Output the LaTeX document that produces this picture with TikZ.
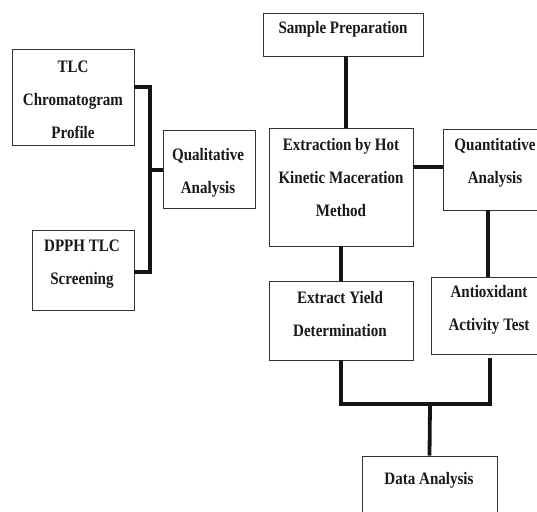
\documentclass[tikz,border=0pt]{standalone}
\usepackage{fontspec}
\setmainfont{Liberation Serif}[FakeStretch=0.86]
\begin{document}
\begin{tikzpicture}[x=1pt,y=-1pt,
  box/.style={draw=black!80, line width=0.9pt, inner sep=0pt, fill=white},
  lbl/.style={font=\fontsize{17.5}{33}\selectfont\bfseries, align=center, text=black!90, inner sep=0pt},
  conn/.style={line width=3.8pt, draw=black!92}]
\useasboundingbox (0,0) rectangle (537,511);
\coordinate (bt) at (150,87);
\coordinate (bb) at (150,272);
\coordinate (bm) at (150,170);
\coordinate (c1) at (346,0);
\coordinate (c2) at (0,167);
\coordinate (c3) at (488,0);
\coordinate (c4) at (490,0);
\coordinate (j) at (430,404);
% boxes
\node[box, minimum width=122pt, minimum height=96pt] (tlc) at (73,97) {};
\node[box, minimum width=102pt, minimum height=80pt] (dpph) at (83,270) {};
\node[box, minimum width=92pt, minimum height=78pt] (qual) at (209,169) {};
\node[box, minimum width=160pt, minimum height=43pt] (samp) at (343,34.5) {};
\node[box, minimum width=144pt, minimum height=118pt] (ext) at (341,187) {};
\node[box, minimum width=95pt, minimum height=81pt] (quant) at (490.5,169.5) {};
\node[box, minimum width=144pt, minimum height=79pt] (yield) at (341,320.5) {};
\node[box, minimum width=107pt, minimum height=77pt] (anti) at (484.5,315.5) {};
\node[box, minimum width=135pt, minimum height=75pt] (data) at (429.5,493.5) {};
% texts
\node[lbl] at (73,100) {TLC\\Chromatogram\\Profile};
\node[lbl] at (82,264) {DPPH TLC\\Screening};
\node[lbl] at (208,172.5) {Qualitative\\Analysis};
\node[lbl] at (343,29) {Sample Preparation};
\node[lbl] at (341,178) {Extraction by Hot\\Kinetic Maceration\\Method};
\node[lbl] at (495,162.5) {Quantitative\\Analysis};
\node[lbl] at (340,314) {Extract Yield\\Determination};
\node[lbl] at (489,310) {Antioxidant\\Activity Test};
\node[lbl] at (429,480) {Data Analysis};
% connectors
\draw[conn] (tlc.east |- bt) -- (bt) -- (bb) -- (dpph.east |- bb);
\draw[conn] (bm) -- (qual.west |- bm);
\draw[conn] (c1 |- samp.south) -- (c1 |- ext.north);
\draw[conn] (ext.east |- c2) -- (quant.west |- c2);
\draw[conn] (c3 |- quant.south) -- (c3 |- anti.north);
\draw[conn] (ext.south) -- (yield.north);
\draw[conn] (yield.south) -- (yield.south |- j) -- (c4 |- j) -- ([yshift=-4pt]c4 |- anti.south);
\draw[conn] (j) -- (data.north);
\end{tikzpicture}
\end{document}
